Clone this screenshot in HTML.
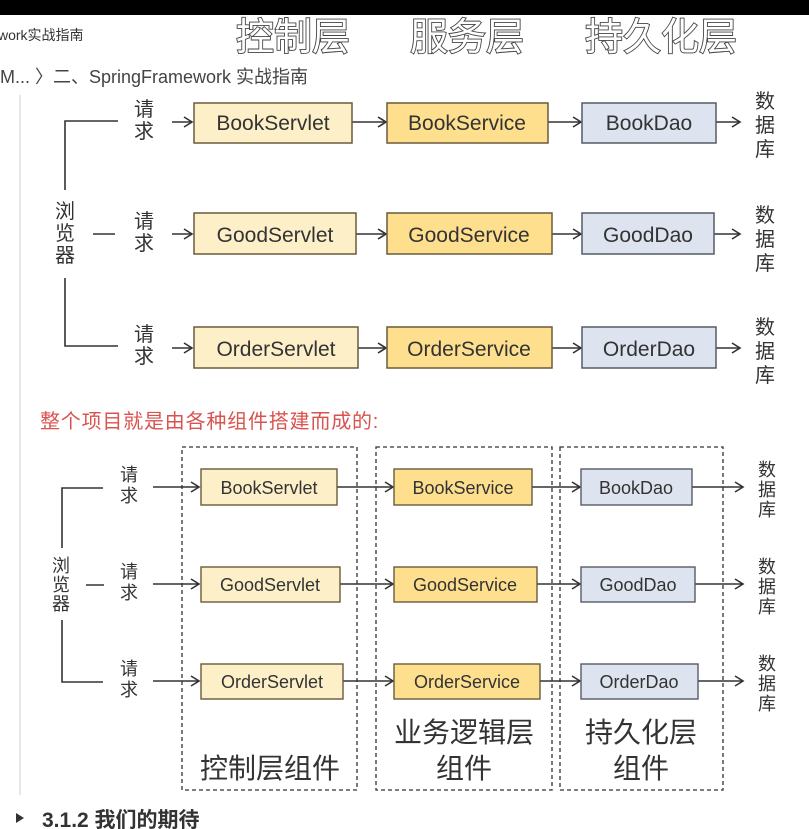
<!DOCTYPE html>
<html><head><meta charset="utf-8"><style>
html,body{margin:0;padding:0;background:#fff;}
svg{display:block;}
text{font-family:"Liberation Sans","Noto Sans CJK SC",sans-serif;}
</style></head><body>
<svg width="809" height="829" viewBox="0 0 809 829" xmlns="http://www.w3.org/2000/svg">
<defs>
<marker id="a" markerWidth="12" markerHeight="12" refX="10" refY="6" orient="auto" markerUnits="userSpaceOnUse">
<path d="M2,1 L10,6 L2,11" fill="none" stroke="#333" stroke-width="1.6"/></marker>
</defs>
<rect x="0" y="0" width="809" height="15" fill="#000"/>
<line x1="20" y1="95" x2="20" y2="795" stroke="#e6e6e6" stroke-width="2"/>
<text x="-2" y="40" font-size="14" fill="#333">work实战指南</text>
<text x="0" y="83" font-size="18" fill="#444">M...  〉二、SpringFramework 实战指南</text>
<g font-size="38" fill="#fff" stroke="#444" stroke-width="1.8" paint-order="stroke">
<text x="236" y="50">控制层</text><text x="410" y="50">服务层</text><text x="585" y="50">持久化层</text>
</g>
<!-- top diagram -->
<g stroke="#333" stroke-width="1.6" fill="none">
<path d="M118,121 H65 V190 M65,278 V346 H118 M93,234 H115"/>
</g>
<g font-size="20" fill="#333">
<text x="55" y="218">浏</text><text x="55" y="240">览</text><text x="55" y="262">器</text>
</g>
<g font-size="20" fill="#333">
<text x="134" y="116">请</text><text x="134" y="138">求</text>
<text x="134" y="228">请</text><text x="134" y="250">求</text>
<text x="134" y="341">请</text><text x="134" y="363">求</text>
<text x="755" y="108">数</text><text x="755" y="132">据</text><text x="755" y="156">库</text>
<text x="755" y="222">数</text><text x="755" y="246">据</text><text x="755" y="270">库</text>
<text x="755" y="334">数</text><text x="755" y="358">据</text><text x="755" y="382">库</text>
</g>
<g stroke="#333" stroke-width="1.6" marker-end="url(#a)">
<line x1="172" y1="122" x2="192" y2="122"/><line x1="352" y1="122" x2="386" y2="122"/><line x1="548" y1="122" x2="581" y2="122"/><line x1="716" y1="122" x2="740" y2="122"/>
<line x1="172" y1="234" x2="192" y2="234"/><line x1="356" y1="234" x2="386" y2="234"/><line x1="552" y1="234" x2="581" y2="234"/><line x1="714" y1="234" x2="740" y2="234"/>
<line x1="172" y1="348" x2="192" y2="348"/><line x1="358" y1="348" x2="386" y2="348"/><line x1="552" y1="348" x2="581" y2="348"/><line x1="716" y1="348" x2="740" y2="348"/>
</g>
<g stroke-width="1.5">
<rect x="194" y="103" width="158" height="40" fill="#fdf0c9" stroke="#6a5a3a"/>
<rect x="387" y="103" width="161" height="40" fill="#fddf8e" stroke="#6a5a3a"/>
<rect x="582" y="103" width="134" height="40" fill="#dde4f0" stroke="#555c66"/>
<rect x="194" y="213" width="162" height="41" fill="#fdf0c9" stroke="#6a5a3a"/>
<rect x="387" y="213" width="165" height="41" fill="#fddf8e" stroke="#6a5a3a"/>
<rect x="582" y="213" width="132" height="41" fill="#dde4f0" stroke="#555c66"/>
<rect x="194" y="327" width="164" height="41" fill="#fdf0c9" stroke="#6a5a3a"/>
<rect x="387" y="327" width="165" height="41" fill="#fddf8e" stroke="#6a5a3a"/>
<rect x="582" y="327" width="134" height="41" fill="#dde4f0" stroke="#555c66"/>
</g>
<g font-size="21" fill="#333" text-anchor="middle">
<text x="273" y="130">BookServlet</text><text x="467" y="130">BookService</text><text x="649" y="130">BookDao</text>
<text x="275" y="242">GoodServlet</text><text x="469" y="242">GoodService</text><text x="648" y="242">GoodDao</text>
<text x="276" y="356">OrderServlet</text><text x="469" y="356">OrderService</text><text x="649" y="356">OrderDao</text>
</g>
<!-- bottom -->
<text x="40" y="428" font-size="20" letter-spacing="0.8" fill="#d9534f">整个项目就是由各种组件搭建而成的:</text>
<g stroke="#333" stroke-width="1.3" fill="none" stroke-dasharray="4,3">
<rect x="182" y="447" width="175" height="343"/>
<rect x="376" y="447" width="176" height="343"/>
<rect x="560" y="447" width="163" height="343"/>
</g>
<g stroke="#333" stroke-width="1.6" fill="none">
<path d="M103,488 H62 V548 M62,620 V682 H103 M86,585 H104"/>
</g>
<g font-size="18" fill="#333">
<text x="52" y="572">浏</text><text x="52" y="591">览</text><text x="52" y="610">器</text>
<text x="120" y="481">请</text><text x="120" y="502">求</text>
<text x="120" y="578">请</text><text x="120" y="599">求</text>
<text x="120" y="675">请</text><text x="120" y="696">求</text>
<text x="758" y="476">数</text><text x="758" y="496">据</text><text x="758" y="516">库</text>
<text x="758" y="573">数</text><text x="758" y="593">据</text><text x="758" y="613">库</text>
<text x="758" y="670">数</text><text x="758" y="690">据</text><text x="758" y="710">库</text>
</g>
<g stroke="#333" stroke-width="1.5" marker-end="url(#a)">
<line x1="153" y1="487" x2="199" y2="487"/><line x1="337" y1="487" x2="393" y2="487"/><line x1="532" y1="487" x2="580" y2="487"/><line x1="692" y1="487" x2="743" y2="487"/>
<line x1="153" y1="584" x2="199" y2="584"/><line x1="340" y1="584" x2="393" y2="584"/><line x1="537" y1="584" x2="580" y2="584"/><line x1="695" y1="584" x2="743" y2="584"/>
<line x1="153" y1="681" x2="199" y2="681"/><line x1="343" y1="681" x2="393" y2="681"/><line x1="540" y1="681" x2="580" y2="681"/><line x1="698" y1="681" x2="743" y2="681"/>
</g>
<g stroke-width="1.4">
<rect x="201" y="469" width="136" height="36" fill="#fdf0c9" stroke="#6a5a3a"/>
<rect x="394" y="469" width="138" height="36" fill="#fddf8e" stroke="#6a5a3a"/>
<rect x="581" y="469" width="111" height="36" fill="#dde4f0" stroke="#555c66"/>
<rect x="201" y="567" width="139" height="35" fill="#fdf0c9" stroke="#6a5a3a"/>
<rect x="394" y="567" width="143" height="35" fill="#fddf8e" stroke="#6a5a3a"/>
<rect x="581" y="567" width="114" height="35" fill="#dde4f0" stroke="#555c66"/>
<rect x="201" y="664" width="142" height="35" fill="#fdf0c9" stroke="#6a5a3a"/>
<rect x="394" y="664" width="146" height="35" fill="#fddf8e" stroke="#6a5a3a"/>
<rect x="581" y="664" width="117" height="35" fill="#dde4f0" stroke="#555c66"/>
</g>
<g font-size="18" fill="#333" text-anchor="middle">
<text x="269" y="494">BookServlet</text><text x="463" y="494">BookService</text><text x="636" y="494">BookDao</text>
<text x="270" y="591">GoodServlet</text><text x="465" y="591">GoodService</text><text x="638" y="591">GoodDao</text>
<text x="272" y="688">OrderServlet</text><text x="467" y="688">OrderService</text><text x="639" y="688">OrderDao</text>
</g>
<g font-size="28" fill="#333" text-anchor="middle">
<text x="270" y="778">控制层组件</text>
<text x="464" y="742">业务逻辑层</text><text x="464" y="778">组件</text>
<text x="641" y="742">持久化层</text><text x="641" y="778">组件</text>
</g>
<path d="M16,813 L24,818 L16,823 Z" fill="#333"/>
<text x="42" y="827" font-size="21" font-weight="bold" fill="#333">3.1.2 我们的期待</text>
</svg>
</body></html>
